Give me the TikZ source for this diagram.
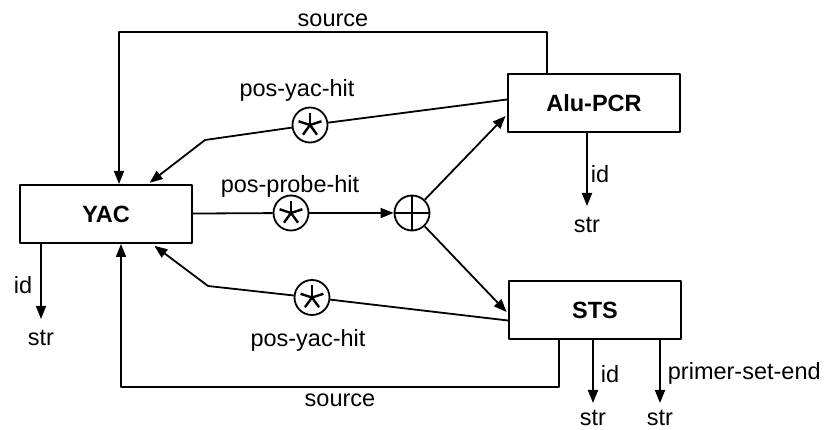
\documentclass[tikz,border=0pt]{standalone}
\usepackage{fontspec}
\setmainfont{Liberation Sans}
\usetikzlibrary{arrows.meta}
\tikzset{
	unit/.style={draw,line width=2pt,minimum width=172pt,minimum height=58pt,inner sep=0pt,font=\fontsize{23.5}{28}\selectfont\bfseries},
	op/.style={draw,circle,line width=1.8pt,minimum size=35pt,inner sep=0pt},
	lbl/.style={inner sep=2pt},
}
\begin{document}
\begin{tikzpicture}[x=1pt,y=-1pt,line join=round,>={Triangle[length=13pt,width=10pt]},font=\fontsize{23.5}{28}\selectfont,line width=1.8pt]
	\useasboundingbox (0,0) rectangle (828,430);
	\node[unit] (yac) at (106,214) {YAC};
	\node[unit] (alu) at (594,103.5) {Alu-PCR};
	\node[unit] (sts) at (595,310.5) {STS};
	\node[op] (s1) at (310,125) {};
	\node[op] (s2) at (291,213) {};
	\node[op] (s3) at (312,297.5) {};
	\node[op] (p) at (412,213) {};
	% stars and plus
	\foreach \s in {s1,s2,s3}
		\foreach \a in {90,162,234,306,18}
			\draw[line width=2.4pt] (\s.center) -- ++(\a:12pt);
	\draw[line width=2.2pt] (p.north) -- (p.south) (p.west) -- (p.east);
	\path
	(547,32) coordinate (topR)
	(119,32) coordinate (topL)
	(559,387) coordinate (botR)
	(121,387) coordinate (botL)
	(205,140) coordinate (k1)
	(208,286) coordinate (k3)
	;
	% outputs
	\node[lbl,anchor=north] (str1) at (41,327) {str};
	\node[lbl,anchor=north] (str2) at (587,214) {str};
	\node[lbl,anchor=north] (str3) at (593,407) {str};
	\node[lbl,anchor=north] (str4) at (660,407) {str};
	\draw[->,shorten >=8pt] (yac.south -| str1) -- node[lbl,left=6pt]{id} (str1.north);
	\draw[->,shorten >=8pt] (alu.south -| str2) -- node[lbl,right=1pt]{id} (str2.north);
	\draw[->,shorten >=4pt] (sts.south -| str3) -- node[lbl,right=5pt]{id} (str3.north);
	\draw[->,shorten >=4pt] (sts.south -| str4) -- node[lbl,right=5pt]{primer-set-end} (str4.north);
	% source loops
	\draw[->] (alu.north -| topR) -- (topR) -- node[lbl,above=2pt]{source} (topL) -- (yac.north -| topL);
	\draw[->] (sts.south -| botR) -- (botR) -- node[lbl,below=4pt]{source} (botL) -- (yac.south -| botL);
	% hits
	\draw ([yshift=4pt]alu.west) -- (s1);
	\draw[->,shorten >=2pt] (s1) -- (k1) -- ([xshift=42pt]yac.north);
	\node[lbl] (l1) at (297,90) {pos-yac-hit};
	\draw (yac) -- (s2);
	\draw[->] (s2) -- (p);
	\node[lbl] (l2) at (290,186) {pos-probe-hit};
	\draw[->,shorten >=2pt] (p) -- ([yshift=-11pt]alu.west);
	\draw[->,shorten >=2pt] (p) -- ([yshift=-3pt]sts.west);
	\draw ([yshift=-10pt]sts.west) -- (s3);
	\draw[->,shorten >=3pt] (s3) -- (k3) -- ([xshift=46pt]yac.south);
	\node[lbl] (l3) at (308,340) {pos-yac-hit};
\end{tikzpicture}
\end{document}
